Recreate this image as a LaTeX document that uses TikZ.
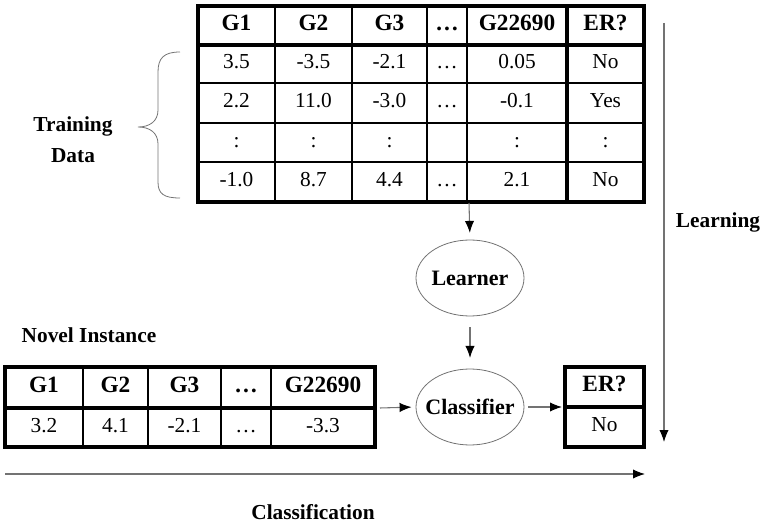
\documentclass[tikz,border=0pt]{standalone}
\usepackage{fontspec}
\setmainfont{Liberation Serif}
\usepackage{tikz}
\usetikzlibrary{arrows.meta, shapes.geometric}
\definecolor{linegray}{gray}{0.45}
\tikzset{
    hd/.style={font=\fontsize{17.5}{20}\selectfont\bfseries, text height=0.68em, text depth=0pt, inner sep=0pt},
    val/.style={font=\fontsize{16}{18}\selectfont, text height=0.68em, text depth=0pt, inner sep=0pt},
    lbl/.style={font=\fontsize{16}{19}\selectfont\bfseries, align=center},
    heavy/.style={line width=2.4pt, line join=miter},
    light/.style={line width=0.8pt},
    oval/.style={ellipse, draw=linegray, line width=0.6pt, inner xsep=-6pt, inner ysep=0pt, minimum width=81pt, minimum height=57pt, font=\fontsize{16.5}{19}\selectfont\bfseries},
    flow/.style={draw=linegray, line width=0.8pt, -{Latex[length=9pt, width=7pt, color=black]}}
}

\begin{document}
\begin{tikzpicture}[x=0.75pt, y=-0.75pt]
    \useasboundingbox (0,0) rectangle (765,524);

    \draw[light] (198,83) -- (644,83); \draw[light] (198,123) -- (644,123); \draw[light] (198,162) -- (644,162);
    \draw[light] (275,6) -- (275,202); \draw[light] (352,6) -- (352,202); \draw[light] (427,6) -- (427,202); \draw[light] (467,6) -- (467,202);
    \draw[heavy] (198,45) -- (644,45); \draw[heavy] (567,6) -- (567,202);
    \draw[heavy] (198,6) rectangle (644,202);
    \node[hd] (th1) at (236.5,25.5) {G1}; \node[hd] (th2) at (313.5,25.5) {G2}; \node[hd] (th3) at (389.5,25.5) {G3};
    \node[hd] (th4) at (447,25.5) {\dots}; \node[hd] (th5) at (517,25.5) {G22690}; \node[hd] (th6) at (605.5,25.5) {ER?};
    \node[val] (a1) at (236.5,64) {3.5}; \node[val] (a2) at (313.5,64) {-3.5}; \node[val] (a3) at (389.5,64) {-2.1};
    \node[val] (a4) at (447,64) {\dots}; \node[val] (a5) at (517,64) {0.05}; \node[val] (a6) at (605.5,64) {No};
    \node[val] (b1) at (236.5,103) {2.2}; \node[val] (b2) at (313.5,103) {11.0}; \node[val] (b3) at (389.5,103) {-3.0};
    \node[val] (b4) at (447,103) {\dots}; \node[val] (b5) at (517,103) {-0.1}; \node[val] (b6) at (605.5,103) {Yes};
    \node[val] (c1) at (236.5,142.5) {:}; \node[val] (c2) at (313.5,142.5) {:}; \node[val] (c3) at (389.5,142.5) {:};
    \node[val] (c5) at (517,142.5) {:}; \node[val] (c6) at (605.5,142.5) {:};
    \node[val] (d1) at (236.5,182) {-1.0}; \node[val] (d2) at (313.5,182) {8.7}; \node[val] (d3) at (389.5,182) {4.4};
    \node[val] (d4) at (447,182) {\dots}; \node[val] (d5) at (517,182) {2.1}; \node[val] (d6) at (605.5,182) {No};

    \draw[linegray, line width=0.6pt] (180,52) .. controls (164,52) and (158,58) .. (158,72) -- (158,110)
        .. controls (158,121) and (150,127) .. (138,127) .. controls (150,127) and (158,133) .. (158,144)
        -- (158,182) .. controls (158,194) and (164,198) .. (180,198);
    \node[lbl] (traininglbl) at (73,140) {Training\\[4pt]Data};

    \node[oval] (learner) at (470,278) {Learner};
    \node[oval] (classifier) at (470,407) {Classifier};
    \coordinate (trainout) at (469,203);
    \draw[flow, shorten >=5pt] (trainout) -- (learner.north);
    \draw[flow, shorten <=8pt, shorten >=8pt] (learner.south) -- (classifier.north);

    \node[lbl] (novellbl) at (89,335) {Novel Instance};
    \draw[light] (83,367) -- (83,447); \draw[light] (148,367) -- (148,447); \draw[light] (221,367) -- (221,447); \draw[light] (271,367) -- (271,447);
    \draw[heavy] (5,408) -- (375,408);
    \draw[heavy] (5,367) rectangle (375,447);
    \node[hd] (nh1) at (44,387.5) {G1}; \node[hd] (nh2) at (115.5,387.5) {G2}; \node[hd] (nh3) at (184.5,387.5) {G3};
    \node[hd] (nh4) at (246,387.5) {\dots}; \node[hd] (nh5) at (323,387.5) {G22690};
    \node[val] (n1) at (44,427.5) {3.2}; \node[val] (n2) at (115.5,427.5) {4.1}; \node[val] (n3) at (184.5,427.5) {-2.1};
    \node[val] (n4) at (246,427.5) {\dots}; \node[val] (n5) at (323,427.5) {-3.3};
    \coordinate (novelout) at (380,408);
    \draw[flow, shorten >=3pt] (novelout) -- (classifier.west);

    \draw[heavy] (565,407) -- (644,407);
    \draw[heavy] (565,367) rectangle (644,447);
    \node[hd] (erh) at (604.5,387) {ER?};
    \node[val] (erv) at (604.5,427) {No};
    \coordinate (erin) at (562,407);
    \draw[flow, shorten <=3pt] (classifier.east) -- (erin);

    \coordinate (learntop) at (664,23); \coordinate (learnbot) at (664,442);
    \draw[flow] (learntop) -- (learnbot); \node[lbl] (learninglbl) at (718,222) {Learning};
    \coordinate (classl) at (5,474); \coordinate (classr) at (645,474);
    \draw[flow] (classl) -- (classr); \node[lbl] (classlbl) at (313,512) {Classification};
\end{tikzpicture}
\end{document}
